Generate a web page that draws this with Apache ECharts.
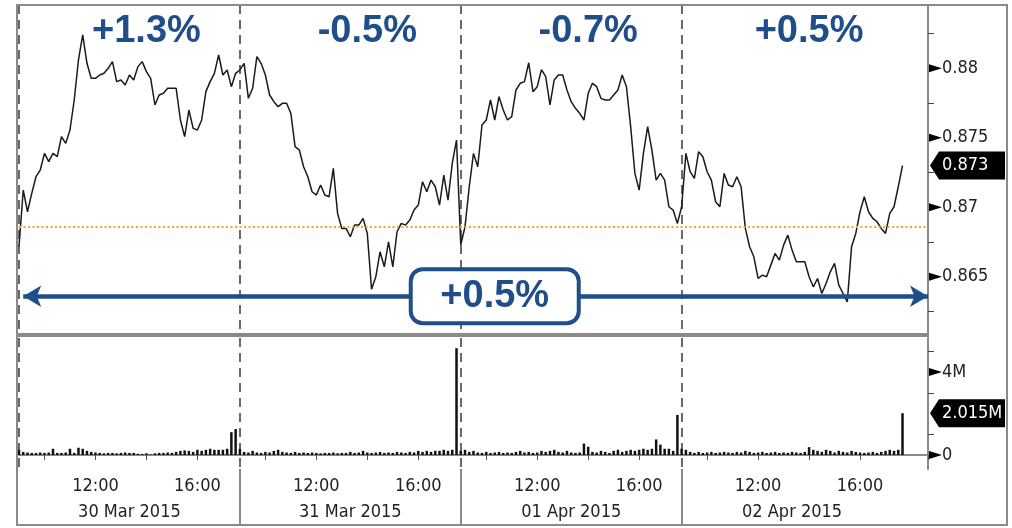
<!DOCTYPE html>
<html><head><meta charset="utf-8">
<script src="https://cdn.jsdelivr.net/npm/echarts@6/dist/echarts.min.js"></script>
<style>html,body{margin:0;padding:0;background:#fff}#c{width:1012px;height:528px}</style>
</head><body><div id="c"></div>
<script>
// ---------- data ----------
const dayLabels = ['30 Mar 2015', '31 Mar 2015', '01 Apr 2015', '02 Apr 2015'];
const dayChange = ['+1.3%', '-0.5%', '-0.7%', '+0.5%'];
const totalChange = '+0.5%';
const slotsPerDay = 52;   // 10-minute slots, 09:00 - 17:40
const extraSlots = 7;     // empty space after the last session

const price30Mar = [0.8672,0.87124,0.86968,0.87100,0.87220,0.87268,0.87388,0.87328,0.87388,0.87364,0.87508,0.87460,0.87556,0.87772,0.88060,0.88240,0.88036,0.87928,0.87928,0.87952,0.87964,0.88000,0.88048,0.87904,0.87916,0.87880,0.87952,0.87916,0.88012,0.88048,0.87976,0.87928,0.87736,0.87808,0.87820,0.87856,0.87856,0.87856,0.87628,0.87508,0.87700,0.87568,0.87556,0.87628,0.87832,0.87904,0.87964,0.88096,0.87952,0.87988,0.87868,0.87964];
const price31Mar = [0.87988,0.88036,0.87784,0.87856,0.88084,0.88036,0.87952,0.87808,0.87760,0.87724,0.87748,0.87748,0.87676,0.87436,0.87412,0.87292,0.87220,0.87112,0.87088,0.87160,0.87088,0.87076,0.87280,0.86956,0.86848,0.86848,0.86788,0.86872,0.86872,0.86920,0.86812,0.86410,0.86500,0.86680,0.86572,0.86752,0.86572,0.86824,0.86884,0.86872,0.86908,0.86980,0.87016,0.87184,0.87112,0.87196,0.87148,0.87016,0.87232,0.87052,0.87316,0.87484];
const price01Apr = [0.86730,0.86860,0.87148,0.87388,0.87292,0.87592,0.87628,0.87772,0.87628,0.87796,0.87700,0.87628,0.87652,0.87844,0.87892,0.87904,0.88040,0.87832,0.87868,0.87990,0.87940,0.87736,0.87916,0.87952,0.87952,0.87844,0.87760,0.87712,0.87676,0.87628,0.87820,0.87892,0.87868,0.87784,0.87772,0.87772,0.87808,0.87844,0.87952,0.87868,0.87580,0.87244,0.87124,0.87388,0.87580,0.87412,0.87196,0.87244,0.87196,0.87004,0.86980,0.86884];
const price02Apr = [0.87004,0.87388,0.87256,0.87208,0.87400,0.87364,0.87256,0.87196,0.87040,0.87004,0.87244,0.87160,0.87148,0.87220,0.87148,0.86848,0.86716,0.86644,0.86488,0.86512,0.86500,0.86584,0.86668,0.86620,0.86728,0.86800,0.86692,0.86608,0.86608,0.86608,0.86500,0.86428,0.86488,0.86380,0.86452,0.86536,0.86596,0.86440,0.86380,0.86320,0.86716,0.86812,0.86968,0.87076,0.86968,0.86920,0.86896,0.86848,0.86812,0.86956,0.87004,0.87148,0.87300];

const volume30Mar = [0.25,0.15,0.12,0.1,0.1,0.12,0.1,0.12,0.3,0.1,0.1,0.12,0.3,0.1,0.35,0.3,0.2,0.15,0.12,0.1,0.08,0.1,0.1,0.08,0.1,0.12,0.1,0.1,0.06,0.05,0.08,0.03,0.08,0.1,0.1,0.12,0.1,0.15,0.2,0.22,0.2,0.15,0.25,0.2,0.25,0.3,0.25,0.25,0.25,0.3,1.1,1.25];
const volume31Mar = [0.3,0.15,0.12,0.2,0.12,0.1,0.15,0.12,0.2,0.25,0.15,0.12,0.1,0.15,0.1,0.12,0.1,0.12,0.1,0.08,0.1,0.1,0.12,0.08,0.1,0.1,0.15,0.1,0.12,0.2,0.12,0.1,0.12,0.15,0.1,0.12,0.1,0.15,0.12,0.1,0.15,0.12,0.2,0.15,0.2,0.15,0.2,0.2,0.25,0.2,0.25,5.15];
const volume01Apr = [0.2,0.25,0.15,0.2,0.12,0.1,0.15,0.1,0.12,0.15,0.1,0.12,0.1,0.15,0.2,0.12,0.15,0.1,0.12,0.2,0.15,0.2,0.25,0.15,0.12,0.2,0.12,0.1,0.12,0.55,0.4,0.15,0.12,0.2,0.15,0.1,0.2,0.25,0.15,0.2,0.25,0.2,0.25,0.3,0.25,0.3,0.75,0.5,0.3,0.3,0.2,1.93];
const volume02Apr = [0.3,0.25,0.15,0.1,0.15,0.1,0.12,0.15,0.1,0.12,0.15,0.12,0.1,0.15,0.12,0.2,0.15,0.1,0.12,0.15,0.1,0.12,0.15,0.1,0.12,0.1,0.15,0.12,0.1,0.15,0.38,0.25,0.2,0.15,0.25,0.2,0.12,0.2,0.15,0.12,0.2,0.15,0.12,0.1,0.12,0.15,0.1,0.15,0.2,0.25,0.2,0.25,2.015];

const priceRef = 0.8686;          // orange dotted reference
const rangeLevel = 0.8636;        // level of the blue range arrow
const priceTickLabels = [0.865, 0.87, 0.875, 0.88];
const priceMinorTicks = [0.8625, 0.8675, 0.8725, 0.8775, 0.8825];
const volumeTickLabels = [0, 4];
const volumeMinorTicks = [1, 3, 5];

// ---------- build ----------
const categories = [];
for (let i = 0; i < 4 * slotsPerDay + extraSlots; i++) {
  const d = Math.min(Math.floor(i / slotsPerDay), 3);
  const m = 9 * 60 + (i - d * slotsPerDay) * 10;
  categories.push(dayLabels[d] + ' ' + String(Math.floor(m / 60)).padStart(2, '0') + ':' + String(m % 60).padStart(2, '0'));
}
const priceAll = [].concat(price30Mar, price31Mar, price01Apr, price02Apr);
const volumeAll = [].concat(volume30Mar, volume31Mar, volume01Apr, volume02Apr);
const lastIdx = priceAll.length - 1;

const FONT = "'DejaVu Sans Condensed', 'Liberation Sans Narrow', 'DejaVu Sans', sans-serif";
const BOLD = "'Liberation Sans', Arial, sans-serif";
const BLUE = '#1F4E8A';
const L = 19, R = 84, W = 1012, H = 528;
const axisX = W - R;

const dashed = { show: true, lineStyle: { color: '#3a3a3a', type: [9, 6], width: 1.5 } };
const dayLine = i => i % slotsPerDay === 0 && i < 4 * slotsPerDay;

const chart = echarts.init(document.getElementById('c'), null, { renderer: 'canvas' });
const option = {
  animation: false,
  backgroundColor: '#fff',
  grid: [
    { left: L, right: R, top: 5, height: 330 },
    { left: L, right: R, top: 338, height: 131 }
  ],
  xAxis: [
    { gridIndex: 0, type: 'category', data: categories, boundaryGap: false,
      axisLine: { show: false }, axisTick: { show: false }, axisLabel: { show: false },
      splitLine: Object.assign({ interval: dayLine }, dashed) },
    { gridIndex: 1, type: 'category', data: categories, boundaryGap: false, position: 'bottom',
      axisLine: { show: true, lineStyle: { color: '#8a8a8a', width: 2 } },
      axisTick: { show: true, interval: i => [6, 18, 30, 42].includes(i % slotsPerDay), length: 5, lineStyle: { color: '#555' } },
      axisLabel: { interval: i => (i % slotsPerDay === 18 || i % slotsPerDay === 42), formatter: v => v.slice(-5),
        fontFamily: FONT, fontSize: 18, color: '#222', margin: 8 },
      splitLine: Object.assign({ interval: dayLine }, dashed) },
    { gridIndex: 1, type: 'category', data: categories, boundaryGap: false, position: 'bottom', offset: 0,
      axisLine: { show: false },
      axisTick: { show: true, interval: i => i % slotsPerDay === 0 && i > 0 && i < 4 * slotsPerDay, length: 56, lineStyle: { color: '#8a8a8a', width: 2 } },
      axisLabel: { interval: i => i % slotsPerDay === 26, formatter: v => v.slice(0, 11),
        fontFamily: FONT, fontSize: 18, color: '#222', margin: 34 },
      splitLine: { show: false } }
  ],
  yAxis: [
    { gridIndex: 0, type: 'value', position: 'right', min: 0.860813, max: 0.884554, scale: true,
      splitLine: { show: false },
      axisLine: { show: true, lineStyle: { color: '#8a8a8a', width: 2 } },
      axisTick: { show: true, customValues: priceMinorTicks, length: 6, lineStyle: { color: '#444' } },
      axisLabel: { customValues: priceTickLabels, formatter: v => String(+(+v).toFixed(4)), margin: 14,
        fontFamily: FONT, fontSize: 18, color: '#222' } },
    { gridIndex: 1, type: 'value', position: 'right', min: -0.675, max: 5.64,
      splitLine: { show: false },
      axisLine: { show: true, lineStyle: { color: '#8a8a8a', width: 2 } },
      axisTick: { show: true, customValues: volumeMinorTicks, length: 6, lineStyle: { color: '#444' } },
      axisLabel: { customValues: volumeTickLabels, formatter: v => (+v === 0 ? '0' : v + 'M'), margin: 14,
        fontFamily: FONT, fontSize: 18, color: '#222' } }
  ],
  series: [
    { type: 'line', xAxisIndex: 0, yAxisIndex: 0, data: priceAll, symbol: 'none',
      lineStyle: { color: '#1a1a1a', width: 1.5 }, z: 3,
      markLine: { silent: true, symbol: ['none', 'none'], z: 4, precision: 6,
        data: [
          { yAxis: priceRef, lineStyle: { color: '#F4A23A', type: [2, 2.5], width: 2 }, label: { show: false } },
          [ { coord: [1, rangeLevel], symbol: 'arrow', symbolSize: [16, 18] },
            { coord: [categories.length - 1, rangeLevel], symbol: 'arrow', symbolSize: [16, 18],
              lineStyle: { color: BLUE, width: 4.5, type: 'solid' }, label: { show: false } } ]
        ] },
      markPoint: { silent: true, z: 10,
        data: dayChange.map((t, d) => ({
          coord: [d * slotsPerDay + 30, 0.88268], symbol: 'rect', symbolSize: 1, itemStyle: { color: 'rgba(0,0,0,0)' },
          label: { show: true, position: 'inside', formatter: t, color: BLUE, fontFamily: BOLD, fontWeight: 'bold', fontSize: 38 }
        })).concat([{
          coord: [111.5, rangeLevel], symbol: 'rect', symbolSize: 1, itemStyle: { color: 'rgba(0,0,0,0)' },
          label: { show: true, position: 'inside', formatter: totalChange, color: BLUE, fontFamily: BOLD, fontWeight: 'bold', fontSize: 38,
            backgroundColor: '#fff', borderColor: BLUE, borderWidth: 4, borderRadius: 10,
            width: 164, height: 50, lineHeight: 50, align: 'center', verticalAlign: 'middle', padding: 0 }
        }]) } },
    { type: 'bar', xAxisIndex: 1, yAxisIndex: 1, data: volumeAll, barWidth: 2.5,
      itemStyle: { color: '#111' } }
  ]
};
chart.setOption(option);

// ---------- decorations from the axes ----------
const g = [];
g.push({ type: 'rect', z: 50, silent: true, shape: { x: 17, y: 5, width: 990, height: 520 }, style: { fill: 'none', stroke: '#8a8a8a', lineWidth: 2 } });
g.push({ type: 'rect', z: 50, silent: true, shape: { x: 17, y: 333, width: axisX - 17 + 1, height: 4 }, style: { fill: '#8a8a8a' } });
function tri(y) {
  g.push({ type: 'polygon', z: 60, silent: true, shape: { points: [[axisX + 1, y - 4], [axisX + 14, y], [axisX + 1, y + 4]] }, style: { fill: '#000' } });
}
priceTickLabels.forEach(v => tri(chart.convertToPixel({ yAxisIndex: 0 }, v)));
volumeTickLabels.forEach(v => tri(chart.convertToPixel({ yAxisIndex: 1 }, v)));
function tag(y, text) {
  g.push({ type: 'polygon', z: 70, silent: true,
    shape: { points: [[axisX + 2, y], [axisX + 11, y - 14], [1005, y - 14], [1005, y + 14], [axisX + 11, y + 14]] },
    style: { fill: '#000' } });
  g.push({ type: 'text', z: 71, silent: true, x: axisX + 14, y: y,
    style: { text: text, fill: '#fff', font: "18px " + FONT, textVerticalAlign: 'middle', textAlign: 'left' } });
}
const lastPrice = priceAll[lastIdx];
const lastVol = volumeAll[volumeAll.length - 1];
tag(chart.convertToPixel({ yAxisIndex: 0 }, lastPrice), lastPrice.toFixed(3));
tag(chart.convertToPixel({ yAxisIndex: 1 }, lastVol), lastVol.toFixed(3) + 'M');
chart.setOption({ graphic: g });
</script>
</body></html>
